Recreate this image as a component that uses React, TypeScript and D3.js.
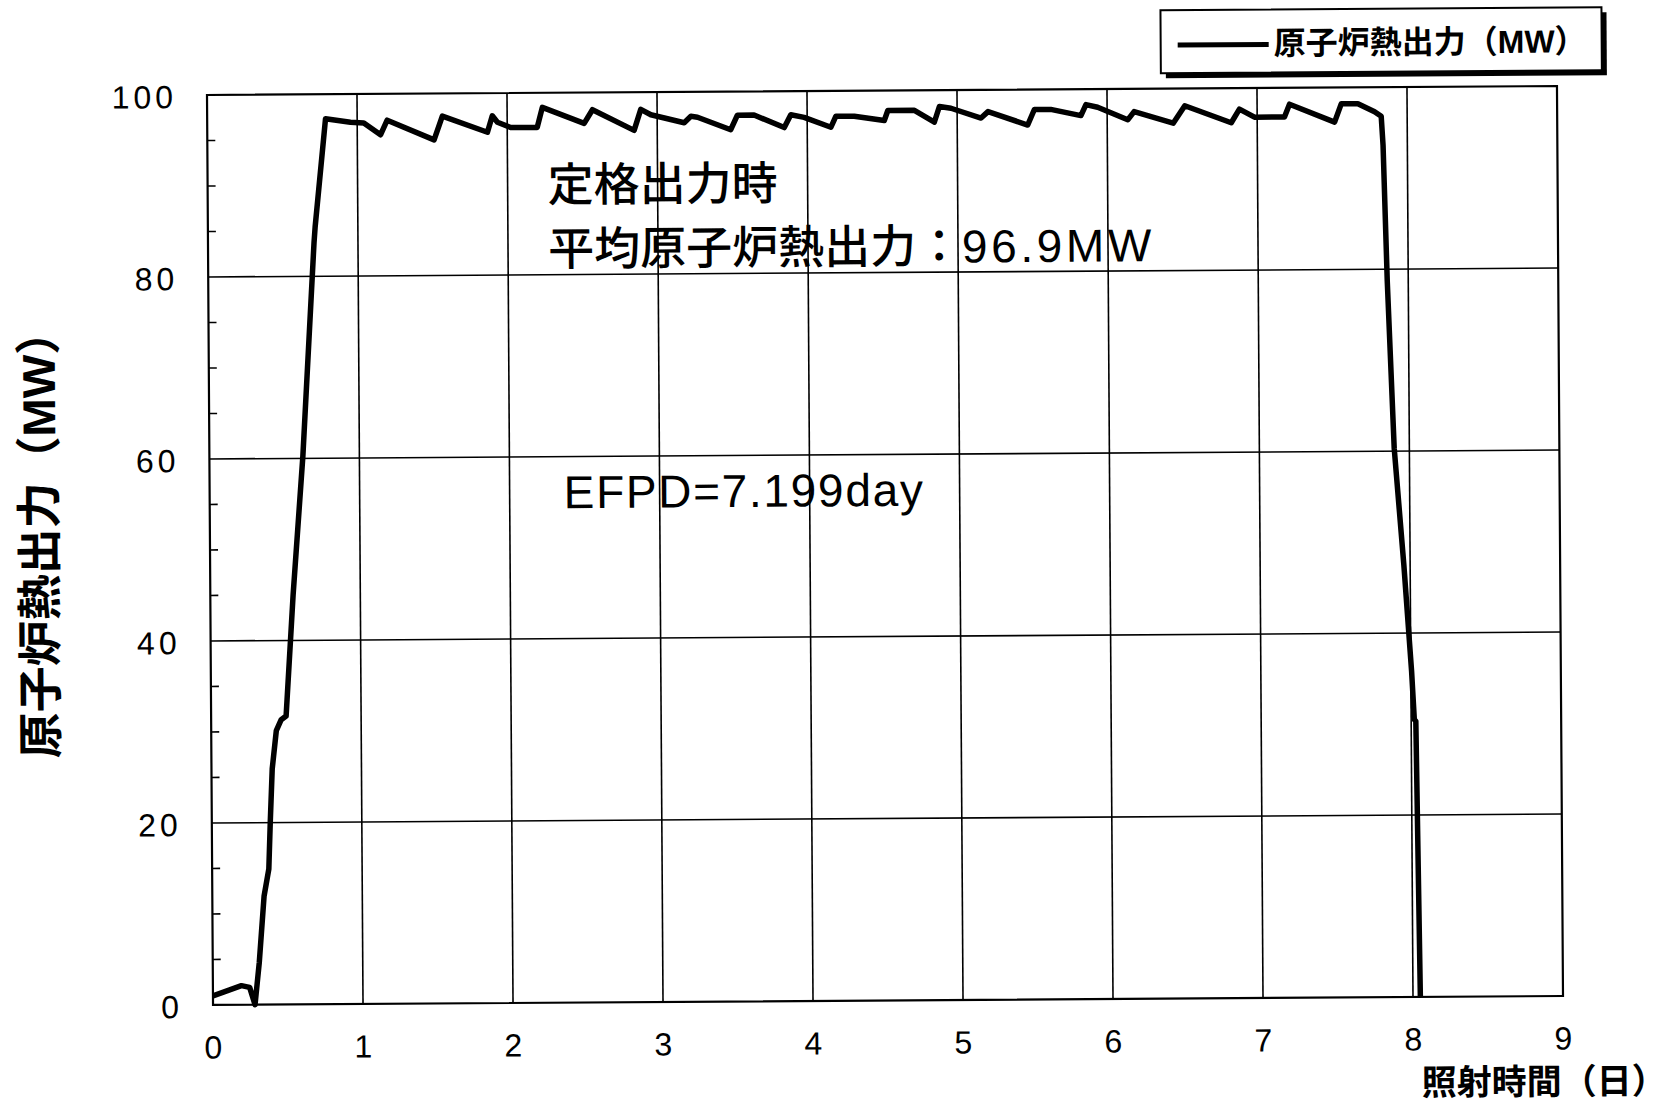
import React, { useRef, useEffect } from 'react';
import * as d3 from 'd3';

// irradiation time (day) and reactor thermal power (MW)
const days = [
  0, 0.07, 0.19, 0.245, 0.28, 0.31, 0.345, 0.378, 0.39, 0.405, 0.434, 0.467, 0.5, 0.507,
  0.552, 0.623, 0.707, 0.715, 0.789, 0.955, 1.044, 1.155, 1.2, 1.512, 1.568, 1.868, 1.901,
  1.935, 2.023, 2.2, 2.235, 2.513, 2.569, 2.846, 2.891, 2.958, 3.18, 3.225, 3.269, 3.49,
  3.535, 3.646, 3.847, 3.891, 3.98, 4.158, 4.191, 4.314, 4.514, 4.538, 4.715, 4.848, 4.882,
  4.959, 5.159, 5.206, 5.47, 5.515, 5.624, 5.825, 5.859, 5.937, 6.137, 6.18, 6.44, 6.518,
  6.827, 6.882, 6.982, 7.182, 7.216, 7.516, 7.561, 7.672, 7.783, 7.827, 7.838, 7.86, 7.899,
  7.958, 8.005, 8.021, 8.031, 8.049,
];
const powerMW = [
  1.0, 1.4, 2.1, 1.9, 0.0, 4.6, 11.9, 14.9, 20.2, 25.9, 30.1, 31.3, 31.7, 33.5,
  45, 60.2, 83.7, 85.4, 97.3, 96.9, 96.8, 95.5, 97.1, 94.9, 97.5, 95.7, 97.5,
  96.8, 96.2, 96.2, 98.4, 96.6, 98.1, 95.8, 98.1, 97.5, 96.6, 97.3, 97.2, 95.8,
  97.4, 97.4, 96.0, 97.4, 97.1, 96.0, 97.2, 97.2, 96.7, 97.8, 97.8, 96.5, 98.2,
  98.0, 96.9, 97.6, 96.1, 97.8, 97.8, 97.1, 98.3, 98.0, 96.6, 97.5, 96.2, 98.1,
  96.2, 97.7, 96.8, 96.8, 98.2, 96.2, 98.2, 98.2, 97.3, 96.8, 93.6, 78.7, 60.3,
  47.5, 35.8, 30.5, 30.3, 0,
];

const xTicks = [0, 1, 2, 3, 4, 5, 6, 7, 8, 9];
const yTicks = [0, 20, 40, 60, 80, 100];
const yMinorTicks = d3.range(5, 100, 5);

const seriesName = '原子炉熱出力（MW）';
const xTitle = '照射時間（日）';
const noteLine1 = '定格出力時';
const noteLine2 = '平均原子炉熱出力：';
const noteValue = '96.9MW';
const noteEfpd = 'EFPD=7.199day';

const W = 1669;
const H = 1105;
const FONT = "'Liberation Sans', 'Noto Sans CJK JP', sans-serif";

export default function App() {
  const svgRef = useRef<SVGSVGElement>(null);

  useEffect(() => {
    if (!svgRef.current) return;
    const svg = d3.select(svgRef.current);
    svg.selectAll('*').remove();

    const margin = { top: 90.5, right: W - 1560, bottom: H - 1000.5, left: 210 };
    const x = d3.scaleLinear().domain([0, 9]).range([margin.left, W - margin.right]);
    const y = d3.scaleLinear().domain([0, 100]).range([H - margin.bottom, margin.top]);

    // the scanned page is slightly tilted
    const g = svg.append('g')
      .attr('transform', `rotate(-0.38, ${(x(0) + x(9)) / 2}, ${(y(0) + y(100)) / 2})`)
      .attr('font-family', FONT);

    // grid
    g.selectAll('.gx')
      .data(xTicks.slice(1, -1))
      .join('line')
      .attr('x1', d => x(d)).attr('x2', d => x(d))
      .attr('y1', y(100)).attr('y2', y(0))
      .attr('stroke', '#000').attr('stroke-width', 1.6);

    g.selectAll('.gy')
      .data(yTicks.slice(1, -1))
      .join('line')
      .attr('x1', x(0)).attr('x2', x(9))
      .attr('y1', d => y(d)).attr('y2', d => y(d))
      .attr('stroke', '#000').attr('stroke-width', 1.6);

    // minor ticks on the y axis, pointing inward
    g.selectAll('.my')
      .data(yMinorTicks.filter(v => v % 20 !== 0))
      .join('line')
      .attr('x1', x(0)).attr('x2', x(0) + 8)
      .attr('y1', d => y(d)).attr('y2', d => y(d))
      .attr('stroke', '#000').attr('stroke-width', 1.6);

    g.append('rect')
      .attr('x', x(0)).attr('y', y(100))
      .attr('width', x(9) - x(0)).attr('height', y(0) - y(100))
      .attr('fill', 'none').attr('stroke', '#000').attr('stroke-width', 2.2);

    // tick labels
    g.selectAll('.ty')
      .data(yTicks)
      .join('text')
      .attr('x', 180).attr('y', d => y(d) + 2)
      .attr('text-anchor', 'end').attr('dominant-baseline', 'central')
      .attr('font-size', 32).attr('letter-spacing', 4).attr('fill', '#000')
      .text(d => d);

    g.selectAll('.tx')
      .data(xTicks)
      .join('text')
      .attr('x', d => x(d)).attr('y', 1043)
      .attr('text-anchor', 'middle').attr('dominant-baseline', 'central')
      .attr('font-size', 32).attr('fill', '#000')
      .text(d => d);

    // axis titles
    g.append('text')
      .attr('transform', `translate(40, 528) rotate(-90)`)
      .attr('text-anchor', 'middle').attr('dominant-baseline', 'central')
      .attr('font-size', 46).attr('font-weight', 'bold').attr('fill', '#000')
      .text(seriesName);

    g.append('text')
      .attr('x', 1418).attr('y', 1086)
      .attr('dominant-baseline', 'central')
      .attr('font-size', 35).attr('font-weight', 'bold').attr('fill', '#000')
      .text(xTitle);

    // annotations
    g.append('text')
      .attr('x', 550).attr('y', 183)
      .attr('dominant-baseline', 'central')
      .attr('font-size', 46).attr('font-weight', 500).attr('fill', '#000')
      .text(noteLine1);

    const t2 = g.append('text')
      .attr('x', 550).attr('y', 247)
      .attr('dominant-baseline', 'central')
      .attr('font-size', 46).attr('font-weight', 500).attr('fill', '#000');
    t2.append('tspan').text(noteLine2);
    t2.append('tspan').attr('font-weight', 'normal').attr('letter-spacing', 3.6).text(noteValue);

    g.append('text')
      .attr('x', 564).attr('y', 490)
      .attr('dominant-baseline', 'central')
      .attr('font-size', 46).attr('letter-spacing', 1.7).attr('fill', '#000')
      .text(noteEfpd);

    // series
    const pts = days.map((d, i) => [d, powerMW[i]] as [number, number]);
    const line = d3.line<[number, number]>()
      .x(d => x(d[0]))
      .y(d => y(d[1]));

    g.append('path')
      .datum(pts)
      .attr('d', line)
      .attr('fill', 'none')
      .attr('stroke', '#000')
      .attr('stroke-width', 5.5)
      .attr('stroke-linejoin', 'round');

    // legend with drop shadow
    const lg = g.append('g');
    lg.append('rect')
      .attr('x', 1169).attr('y', 17).attr('width', 441).attr('height', 63)
      .attr('fill', '#000');
    lg.append('rect')
      .attr('x', 1164).attr('y', 12).attr('width', 441).attr('height', 63)
      .attr('fill', '#fff').attr('stroke', '#000').attr('stroke-width', 2);
    lg.append('line')
      .attr('x1', 1181).attr('x2', 1272).attr('y1', 47).attr('y2', 47)
      .attr('stroke', '#000').attr('stroke-width', 5);
    lg.append('text')
      .attr('x', 1277).attr('y', 46)
      .attr('dominant-baseline', 'central')
      .attr('font-size', 32).attr('font-weight', 'bold').attr('fill', '#000')
      .text(seriesName);
  }, []);

  return (
    <svg
      ref={svgRef}
      width={W}
      height={H}
      style={{ position: 'absolute', left: 0, top: 0, background: '#fff' }}
    />
  );
}
